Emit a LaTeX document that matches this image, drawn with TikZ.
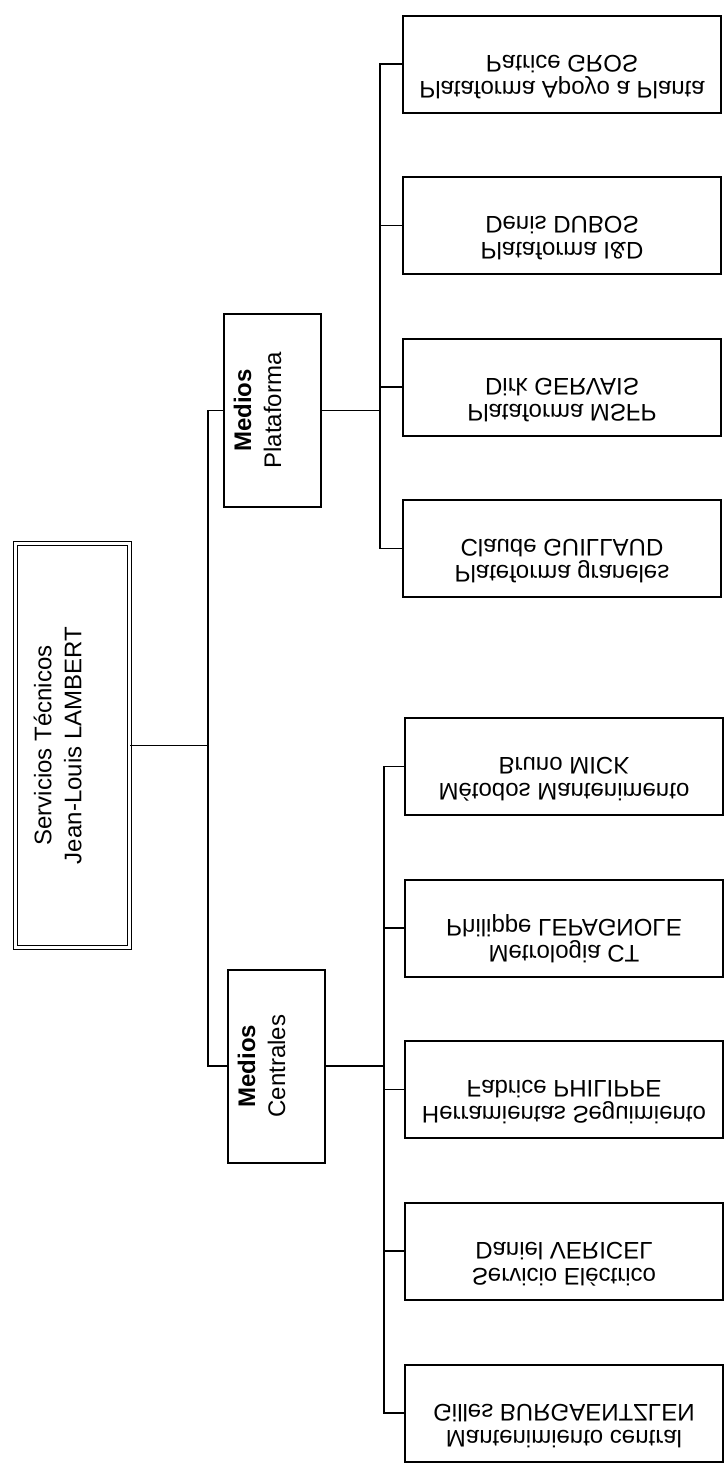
\documentclass[tikz,border=0pt]{standalone}
\usepackage{fontspec}
\setmainfont{Liberation Sans}

\begin{document}
\begin{tikzpicture}[x=1pt, y=-1pt]
\tikzset{racine/.style={draw, double, line width=1.3pt, double distance=3pt, rotate=90, align=center, minimum width=404pt, minimum height=114pt, font=\fontsize{24}{30}\selectfont},
moyen/.style={draw, line width=2pt, rotate=90, align=center, minimum width=193pt, minimum height=97pt, font=\fontsize{24}{30}\selectfont},
feuille/.style={draw, line width=2pt, yscale=-1, align=center, minimum width=318pt, minimum height=97pt, font=\fontsize{24}{26}\selectfont},
lien/.style={line width=1.5pt}}
\useasboundingbox (0, 0) rectangle (727, 1478);
\node[racine] (R) at (72.5, 745.5) {Servicios Técnicos\\Jean-Louis LAMBERT\\ \mbox{}};
\node[moyen] (P) at (272.5, 410.5) {\textbf{Medios}\\Plataforma\\ \mbox{}};
\node[moyen] (C) at (276.5, 1066) {\textbf{Medios}\\Centrales\\ \mbox{}};
\node[feuille] (P1) at (562, 64) {Plataforma Apoyo a Planta\\Patrice GROS\\ \mbox{}};
\node[feuille] (P2) at (562, 225.5) {Plataforma I\&D\\Denis DUBOS\\ \mbox{}};
\node[feuille] (P3) at (562, 387) {Plataforma MSFP\\Dirk GERVAIS\\ \mbox{}};
\node[feuille] (P4) at (562, 548.5) {Plateforma graneles\\Claude GUILLAUD\\ \mbox{}};
\node[feuille] (C1) at (564, 766.5) {Métodos Mantenimento\\Bruno MICK\\ \mbox{}};
\node[feuille] (C2) at (564, 928) {Metrologia CT\\Philippe LEPAGNOLE\\ \mbox{}};
\node[feuille] (C3) at (564, 1089.5) {Herramientas Seguimiento\\Fabrice PHILIPPE\\ \mbox{}};
\node[feuille] (C4) at (564, 1251) {Servicio Eléctrico\\Daniel VERICEL\\ \mbox{}};
\node[feuille] (C5) at (564, 1413) {Mantenimiento central\\Gilles BURGAENTZLEN\\ \mbox{}};
\coordinate (S) at (208, 745.5);
\coordinate (PB) at (380, 410.5);
\coordinate (CB) at (384, 1066);
\draw[lien] (R.south) -- (S);
\draw[lien] (P.north) -| (S) |- (C.north);
\draw[lien] (P.south) -- (PB);
\draw[lien] (PB) |- (P1.west);
\draw[lien] (PB) |- (P2.west);
\draw[lien] (PB) |- (P3.west);
\draw[lien] (PB) |- (P4.west);
\draw[lien] (C.south) -- (CB);
\draw[lien] (CB) |- (C1.west);
\draw[lien] (CB) |- (C2.west);
\draw[lien] (CB) |- (C3.west);
\draw[lien] (CB) |- (C4.west);
\draw[lien] (CB) |- (C5.west);
\end{tikzpicture}
\end{document}
